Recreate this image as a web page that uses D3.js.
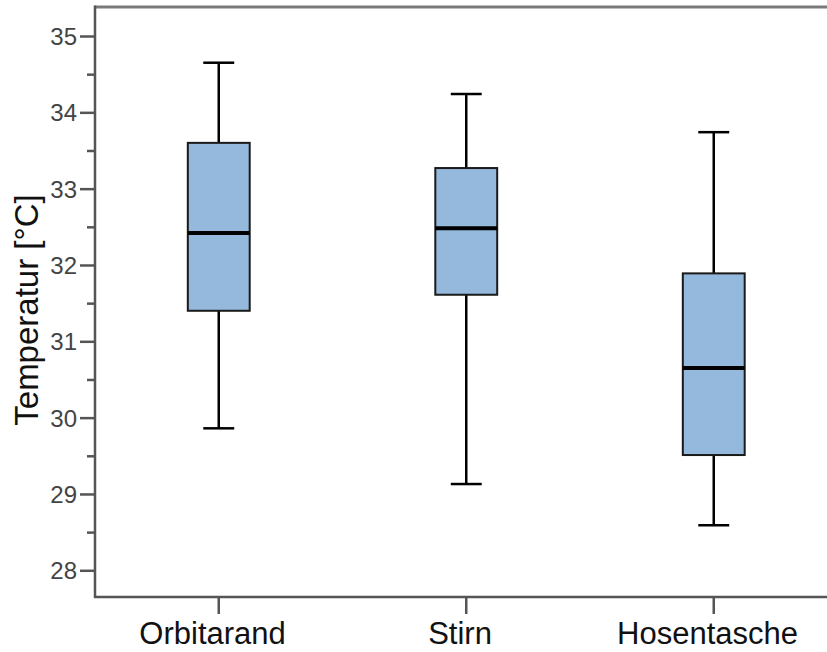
<!DOCTYPE html>
<html>
<head>
<meta charset="utf-8">
<script src="https://cdn.jsdelivr.net/npm/d3@7"></script>
<style>
  body { margin: 0; background: #fff; }
  svg { display: block; font-family: "Liberation Sans", Arial, sans-serif; }
</style>
</head>
<body>
<svg id="chart" width="827" height="652"></svg>
<script>
// values
var categories = ["Orbitarand", "Stirn", "Hosentasche"]
var whiskerLow = [29.86, 29.13, 28.59]
var q1 = [31.40, 31.61, 29.51]
var median = [32.42, 32.48, 30.65]
var q3 = [33.60, 33.27, 31.89]
var whiskerHigh = [34.65, 34.24, 33.74]
var majorTicks = [28, 29, 30, 31, 32, 33, 34, 35]
var minorTicks = [28.5, 29.5, 30.5, 31.5, 32.5, 33.5, 34.5]

// plot frame ("top" is taken by window.top, so no short names)
var plotLeft = 95, plotTop = 7, plotBottom = 597, plotRight = 837.5

var svg = d3.select("#chart")

var y = d3.scaleLinear().domain([27.65, 35.38]).range([plotBottom, plotTop])
var x = d3.scaleBand().domain(categories).range([plotLeft, plotRight]).padding(0)

var boxW = x.bandwidth() * 0.25
var capW = boxW / 2

// frame (right side is cut off by the picture)
svg.append("line").attr("x1", plotLeft).attr("x2", 827).attr("y1", plotTop).attr("y2", plotTop)
  .attr("stroke", "#7a7a7a").attr("stroke-width", 3)

// y axis
var yAxis = svg.append("g").attr("transform", "translate(" + plotLeft + ",0)")
  .call(d3.axisLeft(y).tickValues(majorTicks).tickSize(15).tickPadding(3).tickFormat(d3.format("d")))
yAxis.select(".domain").remove()
yAxis.selectAll(".tick line").attr("stroke", "#555").attr("stroke-width", 2.5)
yAxis.selectAll(".tick text").attr("fill", "#444").style("font-size", "24px")
  .attr("dy", "0.36em")

var yMinor = svg.append("g").attr("transform", "translate(" + plotLeft + ",0)")
  .call(d3.axisLeft(y).tickValues(minorTicks).tickSize(8).tickFormat(""))
yMinor.select(".domain").remove()
yMinor.selectAll(".tick line").attr("stroke", "#555").attr("stroke-width", 2.5)

svg.append("line").attr("x1", plotLeft).attr("x2", plotLeft).attr("y1", plotTop - 1.5).attr("y2", plotBottom + 1)
  .attr("stroke", "#555").attr("stroke-width", 2.5)

// x axis
var xAxis = svg.append("g").attr("transform", "translate(0," + plotBottom + ")")
  .call(d3.axisBottom(x).tickSize(17).tickPadding(8))
xAxis.select(".domain").remove()
xAxis.selectAll(".tick line").attr("stroke", "#555").attr("stroke-width", 2.5)
xAxis.selectAll(".tick text").attr("fill", "#111").style("font-size", "31px")
  .attr("dx", "-0.2em")

svg.append("line").attr("x1", plotLeft - 1).attr("x2", 827).attr("y1", plotBottom).attr("y2", plotBottom)
  .attr("stroke", "#555").attr("stroke-width", 2.5)

// y title
svg.append("text")
  .attr("transform", "translate(38," + ((plotTop + plotBottom) / 2 + 8) + ") rotate(-90)")
  .attr("text-anchor", "middle")
  .attr("fill", "#111")
  .style("font-size", "33px")
  .text("Temperatur [°C]")

// boxes
var g = svg.selectAll(".box").data(categories).enter().append("g").attr("class", "box")
function cx(d) { return x(d) + x.bandwidth() / 2 }

g.append("line")
  .attr("x1", cx).attr("x2", cx)
  .attr("y1", function(d, i) { return y(whiskerHigh[i]) })
  .attr("y2", function(d, i) { return y(whiskerLow[i]) })
  .attr("stroke", "#000").attr("stroke-width", 2.5)

g.append("line")
  .attr("x1", function(d) { return cx(d) - capW / 2 }).attr("x2", function(d) { return cx(d) + capW / 2 })
  .attr("y1", function(d, i) { return y(whiskerHigh[i]) }).attr("y2", function(d, i) { return y(whiskerHigh[i]) })
  .attr("stroke", "#000").attr("stroke-width", 2.5)

g.append("line")
  .attr("x1", function(d) { return cx(d) - capW / 2 }).attr("x2", function(d) { return cx(d) + capW / 2 })
  .attr("y1", function(d, i) { return y(whiskerLow[i]) }).attr("y2", function(d, i) { return y(whiskerLow[i]) })
  .attr("stroke", "#000").attr("stroke-width", 2.5)

g.append("rect")
  .attr("x", function(d) { return cx(d) - boxW / 2 })
  .attr("width", boxW)
  .attr("y", function(d, i) { return y(q3[i]) })
  .attr("height", function(d, i) { return y(q1[i]) - y(q3[i]) })
  .attr("fill", "#94b9dc").attr("stroke", "#1a1a1a").attr("stroke-width", 2)

g.append("line")
  .attr("x1", function(d) { return cx(d) - boxW / 2 }).attr("x2", function(d) { return cx(d) + boxW / 2 })
  .attr("y1", function(d, i) { return y(median[i]) }).attr("y2", function(d, i) { return y(median[i]) })
  .attr("stroke", "#000").attr("stroke-width", 4)
</script>
</body>
</html>
